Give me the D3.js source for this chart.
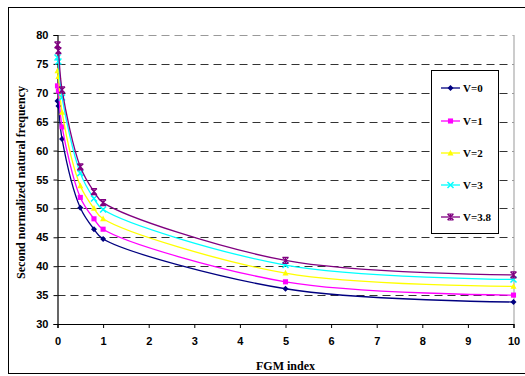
<!DOCTYPE html>
<html>
<head>
<meta charset="utf-8">
<script src="https://cdn.jsdelivr.net/npm/d3@7"></script>
<style>
  html, body { margin: 0; padding: 0; background: #fff; }
  svg { display: block; }
</style>
</head>
<body>
<svg id="chart" width="525" height="376"></svg>
<script>
// FGM index values along the x axis
const fgmIndex = [0, 0.02, 0.1, 0.5, 0.8, 1, 5, 10];

// Second normalized natural frequency for each voltage
const v0  = [68.6, 67.7, 62.0, 50.1, 46.4, 44.7, 36.1, 33.8];
const v1  = [71.2, 70.3, 64.1, 51.9, 48.2, 46.4, 37.3, 35.0];
const v2  = [73.8, 72.8, 66.6, 53.9, 50.0, 48.2, 38.8, 36.5];
const v3  = [76.1, 75.4, 69.2, 56.1, 51.7, 49.8, 40.2, 37.7];
const v38 = [78.3, 77.3, 70.5, 57.2, 52.9, 51.0, 41.0, 38.5];

const seriesNames = ["V=0", "V=1", "V=2", "V=3", "V=3.8"];
const seriesValues = [v0, v1, v2, v3, v38];
const seriesColors = ["#000080", "#ff00ff", "#ffff00", "#00ffff", "#800080"];
const seriesMarkers = ["diamond", "square", "triangle", "cross", "star"];

const xTicks = [0, 1, 2, 3, 4, 5, 6, 7, 8, 9, 10];
const yTicks = [30, 35, 40, 45, 50, 55, 60, 65, 70, 75, 80];

const svg = d3.select("#chart");

const plot = { left: 57.5, right: 513.5, top: 35, bottom: 324 };
const x = d3.scaleLinear().domain([0, 10]).range([plot.left, plot.right]);
const y = d3.scaleLinear().domain([30, 80]).range([plot.bottom, plot.top]);

// outer chart frame
svg.append("rect")
  .attr("x", 8.5).attr("y", 7.5)
  .attr("width", 530).attr("height", 366)
  .attr("fill", "none").attr("stroke", "#000").attr("stroke-width", 1);

// dashed horizontal gridlines
svg.append("g")
  .selectAll("line")
  .data(yTicks.filter(t => t > 30))
  .join("line")
  .attr("x1", plot.left).attr("x2", plot.right)
  .attr("y1", d => Math.round(y(d)) + 0.5).attr("y2", d => Math.round(y(d)) + 0.5)
  .attr("stroke", d => d === 80 ? "#999" : "#333")
  .attr("stroke-width", 1)
  .attr("stroke-dasharray", "8,5");

// right border of plot area
svg.append("line")
  .attr("x1", plot.right + 0.5).attr("x2", plot.right + 0.5)
  .attr("y1", plot.top).attr("y2", plot.bottom)
  .attr("stroke", "#999");

// axes
const xAxis = svg.append("g")
  .attr("transform", `translate(0,${plot.bottom})`)
  .call(d3.axisBottom(x).tickValues(xTicks).tickFormat(d3.format("d")).tickSizeOuter(0).tickSize(4).tickPadding(9));
const yAxis = svg.append("g")
  .attr("transform", `translate(${plot.left},0)`)
  .call(d3.axisLeft(y).tickValues(yTicks).tickFormat(d3.format("d")).tickSizeOuter(0).tickSize(4).tickPadding(5));

[xAxis, yAxis].forEach(g => {
  g.select(".domain").attr("stroke", "#000").attr("stroke-width", 1.2);
  g.selectAll(".tick line").attr("stroke", "#000");
  g.selectAll(".tick text")
    .attr("font-family", "Liberation Sans, Arial, sans-serif")
    .attr("font-weight", "bold")
    .attr("font-size", 11)
    .attr("fill", "#000");
});

// axis titles
svg.append("text")
  .attr("x", x(5)).attr("y", 370)
  .attr("text-anchor", "middle")
  .attr("font-family", "Liberation Serif, Times New Roman, serif")
  .attr("font-weight", "bold").attr("font-size", 12)
  .text("FGM index");

svg.append("text")
  .attr("transform", `translate(25,${(plot.top + plot.bottom) / 2 + 3}) rotate(-90)`)
  .attr("text-anchor", "middle")
  .attr("font-family", "Liberation Serif, Times New Roman, serif")
  .attr("font-weight", "bold").attr("font-size", 12)
  .text("Second normalized natural frequency");

// marker drawing
function drawMarker(g, type, color, size) {
  const s = size;
  if (type === "diamond") {
    g.append("path").attr("d", `M0,${-s}L${s},0L0,${s}L${-s},0Z`).attr("fill", color);
  } else if (type === "square") {
    g.append("rect").attr("x", -s * 0.85).attr("y", -s * 0.85)
      .attr("width", s * 1.7).attr("height", s * 1.7).attr("fill", color);
  } else if (type === "triangle") {
    g.append("path").attr("d", `M0,${-s * 1.1}L${s},${s * 0.8}L${-s},${s * 0.8}Z`).attr("fill", color);
  } else if (type === "cross") {
    g.append("path").attr("d", `M${-s},${-s}L${s},${s}M${-s},${s}L${s},${-s}`)
      .attr("stroke", color).attr("stroke-width", 1.5).attr("fill", "none");
  } else if (type === "star") {
    g.append("path").attr("d", `M${-s},${-s}L${s},${s}M${-s},${s}L${s},${-s}M0,${-s}L0,${s}M${-s},${-s}L${s},${-s}M${-s},${s}L${s},${s}`)
      .attr("stroke", color).attr("stroke-width", 1.2).attr("fill", "none");
  }
}

const line = d3.line()
  .x(d => x(d[0]))
  .y(d => y(d[1]))
  .curve(d3.curveCatmullRom.alpha(0.5));

const seriesG = svg.append("g");
seriesValues.forEach((vals, i) => {
  const pts = fgmIndex.map((fx, j) => [fx, vals[j]]);
  seriesG.append("path")
    .datum(pts)
    .attr("d", line)
    .attr("fill", "none")
    .attr("stroke", seriesColors[i])
    .attr("stroke-width", 1.3);
  pts.forEach(p => {
    const m = seriesG.append("g").attr("transform", `translate(${x(p[0])},${y(p[1])})`);
    drawMarker(m, seriesMarkers[i], seriesColors[i], 3);
  });
});

// legend
const legend = svg.append("g");
legend.append("rect")
  .attr("x", 431.5).attr("y", 70.5)
  .attr("width", 67).attr("height", 163)
  .attr("fill", "#fff").attr("stroke", "#000").attr("stroke-width", 1);
const legendY = [88, 121, 153, 185, 217];
seriesNames.forEach((name, i) => {
  const g = legend.append("g");
  g.append("line")
    .attr("x1", 441).attr("x2", 460)
    .attr("y1", legendY[i]).attr("y2", legendY[i])
    .attr("stroke", seriesColors[i]).attr("stroke-width", 1.3);
  const m = g.append("g").attr("transform", `translate(450.5,${legendY[i]})`);
  drawMarker(m, seriesMarkers[i], seriesColors[i], 3);
  g.append("text")
    .attr("x", 463).attr("y", legendY[i] + 4)
    .attr("font-family", "Liberation Serif, Times New Roman, serif")
    .attr("font-weight", "bold").attr("font-size", 11)
    .text(name);
});
</script>
</body>
</html>
